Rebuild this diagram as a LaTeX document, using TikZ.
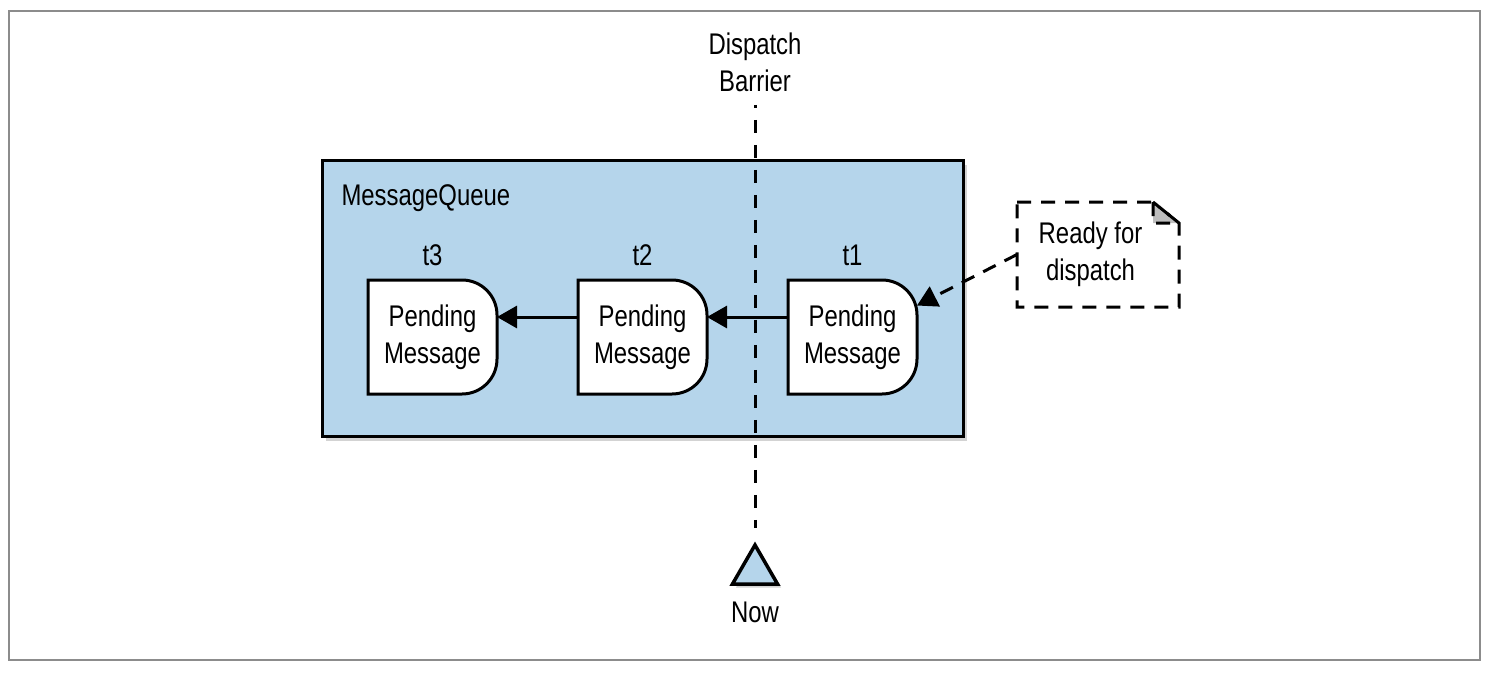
\documentclass[tikz,border=0pt]{standalone}
\usepackage{fontspec}
\setmainfont{Liberation Sans}[FakeStretch=0.8]
\usepackage{xcolor}
\definecolor{queueblue}{RGB}{181,213,235}
\definecolor{framegray}{RGB}{140,140,140}
\definecolor{foldgray}{RGB}{190,190,190}
\usetikzlibrary{positioning}
\usetikzlibrary{arrows.meta,shapes.geometric,shadows}
\usetikzlibrary{backgrounds}

\begin{document}
\begin{tikzpicture}[node distance=0.25cm,every node/.style={inner sep=1,outer sep=1,font=\fontsize{17}{21}\selectfont},
    msg/.style={minimum width=2.58cm,minimum height=2.28cm,inner sep=0,outer sep=0,align=center},
    msgline/.style={draw,fill=white,line width=0.06cm},
    queuebox/.style={draw,fill=queueblue,line width=0.06cm,drop shadow={shadow xshift=2pt,shadow yshift=-3pt,opacity=0.35}},
    flow/.style={-{Triangle[length=0.4cm,width=0.44cm]},line width=0.06cm},
    barrierline/.style={line width=0.06cm,dash pattern=on 0.26cm off 0.24cm,dash phase=0.2cm},
    notebox/.style={line width=0.06cm,dash pattern=on 0.28cm off 0.2cm}]

\useasboundingbox (0,0) rectangle (29.76,-13.48);
\draw[framegray,line width=0.04cm] (0.18,-0.22) rectangle (29.6,-13.2);

\node (qlabel) [anchor=base west] at (6.76,-4.1) {MessageQueue};
\node (m3) [msg] at (8.65,-6.74) {Pending\\Message};
\node (m2) [msg,right=1.62cm of m3] {Pending\\Message};
\node (m1) [msg,right=1.62cm of m2] {Pending\\Message};
\node (t3) [above=0.22cm of m3] {t3};
\node (t2) [above=0.22cm of m2] {t2};
\node (t1) [above=0.22cm of m1] {t1};

\begin{scope}[on background layer]
\path[queuebox] (6.44,-3.2) rectangle (19.26,-8.72);
\foreach \m in {m1,m2,m3}
  \path[msgline] (\m.north west) -- ([xshift=-0.7cm]\m.north east)
    arc[start angle=90,end angle=0,radius=0.7cm] -- ([yshift=0.7cm]\m.south east)
    arc[start angle=0,end angle=-90,radius=0.7cm] -- (\m.south west) -- cycle;
\end{scope}

\draw[flow] ([yshift=0.4cm]m1.west) -- ([yshift=0.4cm]m2.east);
\draw[flow] ([yshift=0.4cm]m2.west) -- ([yshift=0.4cm]m3.east);

% barrier and now marker
\node (barrier) [align=center] at (15.1,-1.24) {Dispatch\\Barrier};
\node (now) [regular polygon,regular polygon sides=3,minimum size=1.04cm,inner sep=0,draw,fill=queueblue,line width=0.07cm,drop shadow={shadow xshift=2pt,shadow yshift=-2pt,opacity=0.35}] at (15.1,-11.42) {};
\node (nowlabel) [below=0.26cm of now] {Now};
\draw[barrierline,shorten <=0.2cm,shorten >=0.26cm] (barrier.south) -- (now.north);

% note
\node (note) [minimum width=3.24cm,minimum height=2.1cm,inner sep=0,outer sep=0,align=center] at (21.96,-5.09) {Ready for\hspace*{0.3cm}\\dispatch\hspace*{0.3cm}};
\draw[notebox,fill=foldgray] ([xshift=-0.52cm]note.north east) -- ([xshift=-0.52cm,yshift=-0.42cm]note.north east) -- ([yshift=-0.42cm]note.north east) -- cycle;
\draw[notebox] (note.north west) -- ([xshift=-0.52cm]note.north east) -- ([yshift=-0.42cm]note.north east) -- (note.south east) -- (note.south west) -- cycle;
\draw[notebox,flow] (note.west) -- (m1.26);
\end{tikzpicture}
\end{document}
